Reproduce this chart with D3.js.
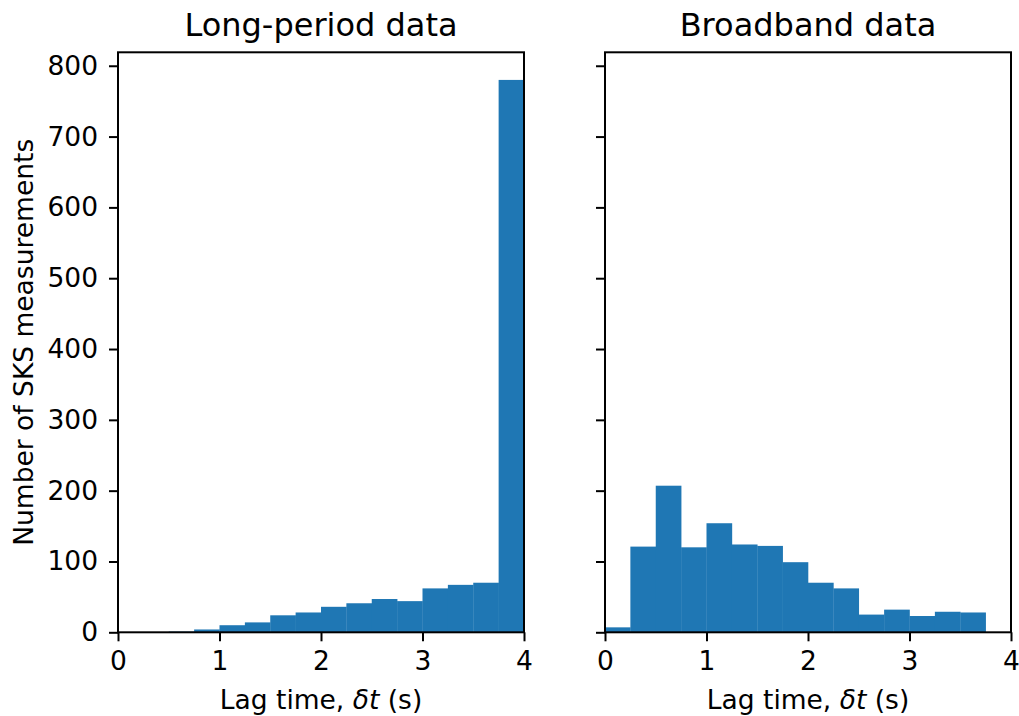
<!DOCTYPE html>
<html>
<head>
<meta charset="utf-8">
<script src="https://cdn.jsdelivr.net/npm/d3@7"></script>
<style>
  html, body { margin: 0; padding: 0; background: #fff; }
  svg { display: block; font-family: "DejaVu Sans", sans-serif; }
</style>
</head>
<body>
<svg id="chart" width="1019" height="716"></svg>
<script>
// Histogram bin edges (s): 16 bins of 0.25 s from 0 to 4
const binEdges = d3.range(0, 4.0001, 0.25);

// Counts of SKS measurements per lag-time bin
const longPeriodCounts = [0, 0, 1, 4, 10, 14, 24, 28, 36, 41, 47, 44, 62, 67, 70, 780];
const broadbandCounts  = [7, 121, 207, 120, 154, 124, 122, 99, 70, 62, 25, 32, 23, 29, 28, 0];

const panelTitles = ["Long-period data", "Broadband data"];
const xTicks = [0, 1, 2, 3, 4];
const yTicks = [0, 100, 200, 300, 400, 500, 600, 700, 800];

const svg = d3.select("#chart");
const barColor = "#1f77b4";
const fontSize = 26.5;
const titleSize = 32;

const plotTop = 52.3, plotBottom = 632.3;
const panels = [
  { x0: 118, x1: 524, counts: longPeriodCounts, title: panelTitles[0], yLabels: true },
  { x0: 605, x1: 1011, counts: broadbandCounts, title: panelTitles[1], yLabels: false }
];

// Shared y scale with 5% headroom above the tallest bar
const yMax = d3.max([...longPeriodCounts, ...broadbandCounts]) * 1.05;
const y = d3.scaleLinear().domain([0, yMax]).range([plotBottom, plotTop]);

panels.forEach(p => {
  const x = d3.scaleLinear().domain([0, 4]).range([p.x0, p.x1]);
  const g = svg.append("g");

  const bins = p.counts.map((c, i) => ({ a: binEdges[i], b: binEdges[i + 1], c }));
  g.selectAll("rect.bar")
    .data(bins)
    .join("rect")
    .attr("class", "bar")
    .attr("x", d => x(d.a))
    .attr("width", d => x(d.b) - x(d.a) + 0.3)
    .attr("y", d => y(d.c))
    .attr("height", d => y(0) - y(d.c))
    .attr("fill", barColor);

  // x axis
  const xAxis = d3.axisBottom(x).tickValues(xTicks).tickSize(9).tickPadding(10)
    .tickFormat(d3.format("d"));
  const gx = g.append("g").attr("transform", `translate(0,${plotBottom})`).call(xAxis);
  gx.select(".domain").remove();
  gx.selectAll(".tick line").attr("stroke", "#000").attr("stroke-width", 2);
  gx.selectAll(".tick text").attr("font-size", fontSize).attr("fill", "#000")
    .attr("font-family", "DejaVu Sans");

  // y axis
  const yAxis = d3.axisLeft(y).tickValues(yTicks).tickSize(9).tickPadding(11)
    .tickFormat(p.yLabels ? d3.format("d") : () => "");
  const gy = g.append("g").attr("transform", `translate(${p.x0},0)`).call(yAxis);
  gy.select(".domain").remove();
  gy.selectAll(".tick line").attr("stroke", "#000").attr("stroke-width", 2);
  gy.selectAll(".tick text").attr("font-size", fontSize).attr("fill", "#000")
    .attr("font-family", "DejaVu Sans");

  // frame
  g.append("rect")
    .attr("x", p.x0).attr("y", plotTop)
    .attr("width", p.x1 - p.x0).attr("height", plotBottom - plotTop)
    .attr("fill", "none").attr("stroke", "#000").attr("stroke-width", 2);

  // title
  g.append("text")
    .attr("x", (p.x0 + p.x1) / 2).attr("y", 36)
    .attr("text-anchor", "middle")
    .attr("font-size", titleSize)
    .text(p.title);

  // x label
  const xl = g.append("text")
    .attr("x", (p.x0 + p.x1) / 2).attr("y", 709)
    .attr("text-anchor", "middle")
    .attr("font-size", fontSize);
  xl.append("tspan").text("Lag time, ");
  xl.append("tspan").attr("font-style", "italic").text("δt");
  xl.append("tspan").text(" (s)");
});

// shared y label
svg.append("text")
  .attr("transform", `translate(33,${(plotTop + plotBottom) / 2}) rotate(-90)`)
  .attr("text-anchor", "middle")
  .attr("font-size", fontSize)
  .text("Number of SKS measurements");
</script>
</body>
</html>
